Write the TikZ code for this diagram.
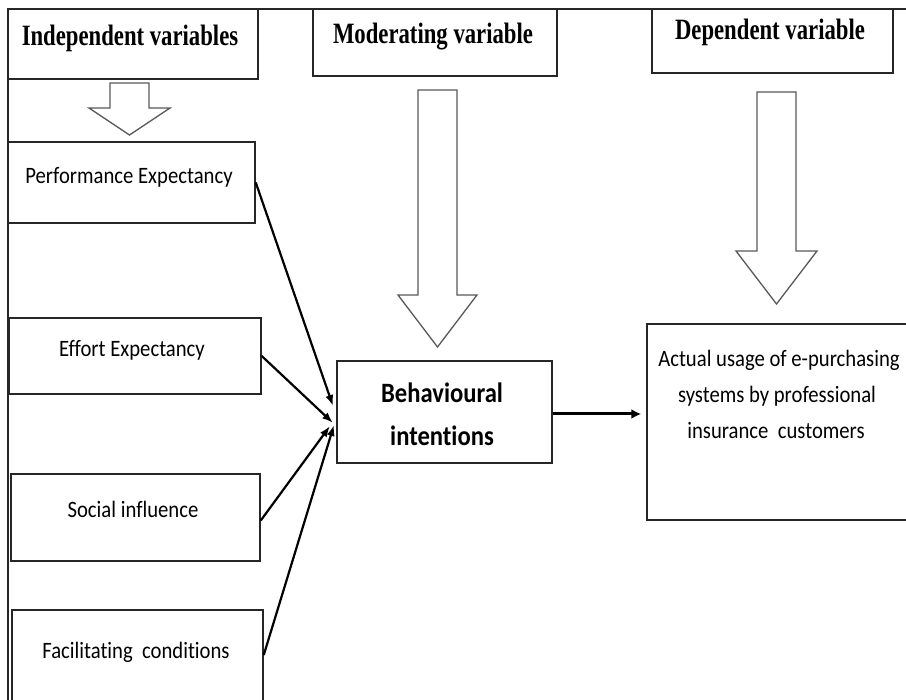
\documentclass[tikz,border=0pt]{standalone}
\usepackage{fontspec}
\usepackage{graphicx}
\setmainfont{Carlito}[Ligatures={NoCommon}]
\newfontfamily\hdrfont{Liberation Serif}
\usetikzlibrary{arrows.meta}
\begin{document}
\begin{tikzpicture}[x=1pt,y=-1pt,
  box/.style={draw=black!85, line width=1.5pt, rectangle, inner sep=0pt, fill=white},
  hdr/.style={anchor=base, inner sep=0pt, font=\hdrfont\bfseries\fontsize{29.5}{30}\selectfont},
  body/.style={anchor=base, inner sep=0pt, font=\fontsize{23.5}{24}\selectfont},
  bodyb/.style={anchor=base, inner sep=0pt, font=\bfseries\fontsize{28}{30}\selectfont},
  hollow/.style={draw=black!65, line width=1.3pt, fill=white, line join=miter},
  conn/.style={draw=black, line width=2.2pt, -{Latex[length=11pt,width=8pt]}},
  connb/.style={draw=black, line width=3pt, -{Latex[length=10pt,width=10pt]}}]
\useasboundingbox (0,0) rectangle (906,700);
\clip (0,0) rectangle (906,700);
\fill[white] (0,0) rectangle (906,700);
% frame
\draw[line width=1.5pt, black!85] (8,700) -- (8,9) -- (906,9);
% header boxes
\node[box, minimum width=250pt, minimum height=70pt] (indep) at (133,44) {};
\node[box, minimum width=244pt, minimum height=67pt] (moder) at (435,42.5) {};
\node[box, minimum width=241pt, minimum height=64pt] (dep) at (772.5,41) {};
\node[hdr] (tindep) at (130,45.5) {\scalebox{0.77}[1]{Independent variables}};
\node[hdr] (tmoder) at (433,44) {\scalebox{0.77}[1]{Moderating variable}};
\node[hdr] (tdep) at (770,40) {\scalebox{0.77}[1]{Dependent variable}};
% hollow arrows
\draw[hollow] (110,83) -- (149,83) -- (149,108) -- (170,108) -- (129.5,135) -- (89,108) -- (110,108) -- cycle;
\draw[hollow] (418,90) -- (457,90) -- (457,295) -- (477,295) -- (437.5,347) -- (398,295) -- (418,295) -- cycle;
\draw[hollow] (757,92) -- (796,92) -- (796,251) -- (817,251) -- (776.5,304) -- (736,251) -- (757,251) -- cycle;
% variable boxes
\node[box, minimum width=247pt, minimum height=81pt] (perf) at (131.5,182.5) {};
\node[box, minimum width=252pt, minimum height=76pt] (effort) at (135,356) {};
\node[box, minimum width=249pt, minimum height=87pt] (social) at (135.5,517.5) {};
\node[box, minimum width=251pt, minimum height=120pt] (facil) at (137.5,670) {};
\node[box, minimum width=215pt, minimum height=102pt] (behav) at (444.5,412) {};
\node[box, minimum width=293pt, minimum height=196pt] (actual) at (793.5,422) {};
% texts
\node[body] (tperf) at (129,184) {\scalebox{0.88}[1]{Performance Expectancy}};
\node[body] (teffort) at (132,357) {\scalebox{0.88}[1]{Effort Expectancy}};
\node[body] (tsocial) at (133,518) {\scalebox{0.88}[1]{Social influence}};
\node[body] (tfacil) at (136,659) {\scalebox{0.88}[1]{Facilitating\ \ conditions}};
\node[bodyb] (tbehav1) at (442,403) {\scalebox{0.88}[1]{Behavioural}};
\node[bodyb] (tbehav2) at (442,446) {\scalebox{0.88}[1]{intentions}};
\node[body] (tact1) at (779,367) {\scalebox{0.88}[1]{Actual usage of e-purchasing}};
\node[body] (tact2) at (777,403) {\scalebox{0.88}[1]{systems by professional}};
\node[body] (tact3) at (776,439) {\scalebox{0.88}[1]{insurance\ \ customers}};
% connectors
\coordinate (p1) at (333,406);
\coordinate (p2) at (333,423);
\coordinate (p3) at (330,426);
\coordinate (p4) at (334,425);
\draw[conn] (perf.east) -- (p1);
\draw[conn] (effort.east) -- (p2);
\draw[conn] ([yshift=-3pt]social.east) -- (p3);
\draw[conn] ([yshift=15pt]facil.east) -- (p4);
\draw[connb] ([yshift=-2pt]behav.east) -- ([xshift=-5pt,yshift=-2pt]actual.west |- behav.east);
\end{tikzpicture}
\end{document}
